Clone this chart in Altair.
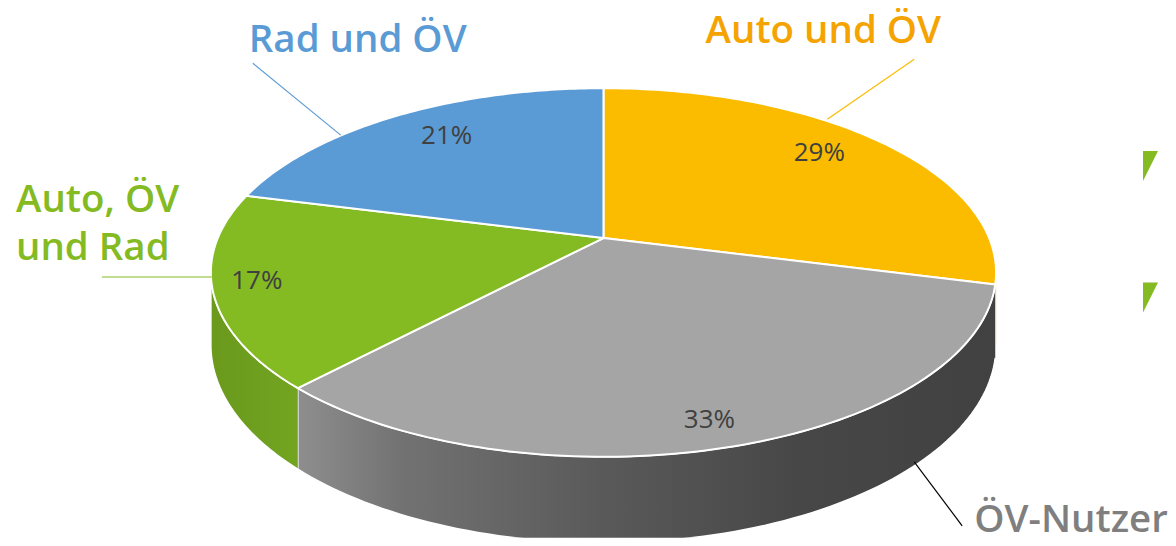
import altair as alt
import pandas as pd

# ---------------- data ----------------
categories = ["Auto und ÖV", "ÖV-Nutzer", "Auto, ÖV und Rad", "Rad und ÖV"]
shares = [29, 33, 17, 21]
pct_texts = [f"{v}%" for v in shares]
label_texts = ["Auto und ÖV", "ÖV-Nutzer", "Auto, ÖV\nund Rad", "Rad und ÖV"]

# ---------------- style ----------------
top_colors = ["#FBBC00", "#A5A5A5", "#84BA22", "#5B9BD5"]
label_colors = ["#F5A300", "#7F7F7F", "#84BA22", "#5B9BD5"]
side_stops = [
    [("#C99700", 0), ("#C99700", 1)],
    [("#8E8E8E", 0), ("#727272", 0.15), ("#5A5A5A", 0.43), ("#474747", 0.72), ("#414141", 1)],
    [("#6A991C", 0), ("#72A421", 1)],
    [("#4A80B0", 0), ("#4A80B0", 1)],
]
FONT = "Open Sans"

# ---------------- layout (screen pixels) ----------------
W, H = 1160, 530
CX, CY = 604, 238          # projected pie centre
A, B, K = 386, 178, 0.187  # radii and perspective factor
D0 = 70                    # side depth
N = 90                     # arc resolution
pct_pos = [(820, 153), (710, 420), (257, 281), (447, 136)]
label_pos = [(824, 43, "center"), (1072, 532, "center"), (16, 212, "left"), (358, 52, "center")]
leaders = [  # x, y, x2, y2 for categories in order
    (915, 59, 828, 119),
    (915, 462, 963, 526),
    (102, 277, 212, 277),
    (253, 63, 341, 135),
]
leader_colors = ["#FBBC00", "#000000", "#84BA22", "#5B9BD5"]
bullets_y = [166, 297.5]
bullet_x = 1151.5

xs = alt.Scale(domain=[8, 8 + W], nice=False, zero=False)
ys = alt.Scale(domain=[8, 8 + H], nice=False, zero=False, reverse=True)

slices_df = pd.DataFrame({"name": categories, "value": shares, "order": list(range(len(shares)))})


def base():
    return (
        alt.Chart(slices_df)
        .transform_joinaggregate(total="sum(value)")
        .transform_window(cum="sum(value)", sort=[alt.SortField("order", order="ascending")], frame=[None, 0])
        .transform_calculate(s="datum.cum - datum.value", e="datum.cum")
    )


# ---- side walls ----
vis0 = f"(acos(-{K}) / (2 * PI))"
layers = []
for i, name in enumerate(categories):
    grad = alt.Gradient(
        gradient="linear", x1=0, x2=1, y1=0, y2=0,
        stops=[alt.GradientStop(color=c, offset=o) for c, o in side_stops[i]],
    )
    side = (
        base()
        .transform_filter(alt.datum.name == name)
        .transform_calculate(
            s2=f"max(datum.s, datum.total * {vis0})",
            e2=f"min(datum.e, datum.total * (1 - {vis0}))",
        )
        .transform_filter("datum.s2 < datum.e2")
        .transform_calculate(k=f"sequence(0, {2 * N + 2})")
        .transform_flatten(["k"])
        .transform_calculate(
            f=f"datum.k <= {N} ? datum.k / {N} : ({2 * N + 1} - datum.k) / {N}",
            bot=f"datum.k <= {N} ? 0 : 1",
            ang="2 * PI * (datum.s2 + (datum.e2 - datum.s2) * datum.f) / datum.total",
            u="sin(datum.ang)",
            v="cos(datum.ang)",
            w=f"1 + {K} * datum.v",
            px=f"{CX} + {A} * datum.u / datum.w",
            py=f"{CY} - {B} * datum.v / datum.w + datum.bot * {D0} / datum.w",
        )
        .mark_line(filled=True, fill=grad, stroke="white", strokeWidth=1.5, clip=True)
        .encode(
            x=alt.X("px:Q", scale=xs, axis=None),
            y=alt.Y("py:Q", scale=ys, axis=None),
            order="k:Q",
        )
    )
    layers.append(side)

# ---- top face ----
top = (
    base()
    .transform_calculate(k=f"sequence(0, {N + 3})")
    .transform_flatten(["k"])
    .transform_calculate(
        f=f"clamp((datum.k - 1) / {N}, 0, 1)",
        rr=f"(datum.k == 0 || datum.k == {N + 2}) ? 0 : 1",
        ang="2 * PI * (datum.s + (datum.e - datum.s) * datum.f) / datum.total",
        u="datum.rr * sin(datum.ang)",
        v="datum.rr * cos(datum.ang)",
        w=f"1 + {K} * datum.v",
        px=f"{CX} + {A} * datum.u / datum.w",
        py=f"{CY} - {B} * datum.v / datum.w",
    )
    .mark_line(filled=True, stroke="white", strokeWidth=2, strokeJoin="round")
    .encode(
        x=alt.X("px:Q", scale=xs, axis=None),
        y=alt.Y("py:Q", scale=ys, axis=None),
        fill=alt.Fill("name:N", scale=alt.Scale(domain=categories, range=top_colors), legend=None),
        detail="name:N",
        order="k:Q",
    )
)
layers.append(top)

# ---- percentage labels ----
pct_df = pd.DataFrame({
    "t": pct_texts,
    "x": [p[0] for p in pct_pos],
    "y": [p[1] for p in pct_pos],
})
layers.append(
    alt.Chart(pct_df)
    .mark_text(font=FONT, fontSize=26, color="#404040", baseline="middle", align="center")
    .encode(x=alt.X("x:Q", scale=xs, axis=None), y=alt.Y("y:Q", scale=ys, axis=None), text="t:N")
)

# ---- leader lines ----
lead_df = pd.DataFrame({
    "x": [l[0] for l in leaders], "y": [l[1] for l in leaders],
    "x2": [l[2] for l in leaders], "y2": [l[3] for l in leaders],
    "c": leader_colors,
})
layers.append(
    alt.Chart(lead_df)
    .mark_rule(strokeWidth=1.2)
    .encode(
        x=alt.X("x:Q", scale=xs, axis=None), y=alt.Y("y:Q", scale=ys, axis=None),
        x2="x2:Q", y2="y2:Q", color=alt.Color("c:N", scale=None),
    )
)

# ---- category labels ----
for i, txt in enumerate(label_texts):
    lx, ly, al = label_pos[i]
    ldf = pd.DataFrame({"t": [txt], "x": [lx], "y": [ly]})
    layers.append(
        alt.Chart(ldf)
        .mark_text(font=FONT, fontSize=38.5, fontWeight=600, color=label_colors[i],
                   align=al, baseline="alphabetic", lineBreak="\n", lineHeight=48)
        .encode(x=alt.X("x:Q", scale=xs, axis=None), y=alt.Y("y:Q", scale=ys, axis=None), text="t:N")
    )

# ---- clipped slide bullets at right edge ----
bul_df = pd.DataFrame({"x": [bullet_x] * len(bullets_y), "y": bullets_y})
layers.append(
    alt.Chart(bul_df)
    .mark_point(shape="M-0.5,-1 L0.5,-1 L-0.5,1 Z", size=900, filled=True, color="#84BA22", opacity=1, strokeWidth=0)
    .encode(x=alt.X("x:Q", scale=xs, axis=None), y=alt.Y("y:Q", scale=ys, axis=None))
)

chart = (
    alt.layer(*layers)
    .properties(width=W, height=H, padding=0, background="white")
    .configure_view(stroke=None)
)

chart.save("out.html", embed_options={"renderer": "svg", "actions": False})
